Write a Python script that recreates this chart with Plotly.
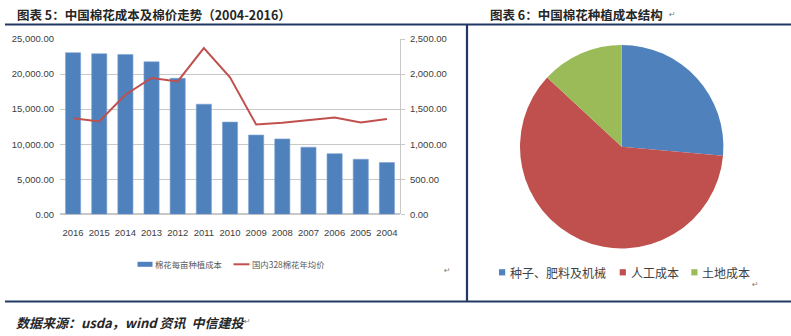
import plotly.graph_objects as go

W, H = 791, 336

years = ["2016", "2015", "2014", "2013", "2012", "2011", "2010", "2009", "2008", "2007", "2006", "2005", "2004"]
cost_per_mu = [23050, 22900, 22800, 21750, 19400, 15700, 13150, 11300, 10750, 9570, 8650, 7850, 7380]
price_328 = [1370, 1325, 1705, 1945, 1895, 2370, 1955, 1280, 1305, 1345, 1380, 1310, 1360]

bar_name = "棉花每亩种植成本"
line_name = "国内328棉花年均价"

pie_labels = ["种子、肥料及机械", "人工成本", "土地成本"]
pie_values = [26.4, 60.5, 13.1]
pie_colors = ["#4f81bd", "#c0504d", "#9bbb59"]

title5 = "图表 5：中国棉花成本及棉价走势（2004-2016）"
title6 = "图表 6：中国棉花种植成本结构"
source = "数据来源：usda，wind 资讯  中信建投"


def px(x):
    return x / W


def py(y):
    return 1 - y / H


NARROW = "Liberation Sans Narrow, Arial Narrow, Liberation Sans, sans-serif"
CJK = "Noto Sans CJK SC, sans-serif"
BLUE, RED = "#4f81bd", "#c0504d"

fig = go.Figure()
fig.add_trace(go.Bar(
    x=years, y=cost_per_mu, name=bar_name,
    marker=dict(color=BLUE, line=dict(color="#7fa3d1", width=0.6)),
    xaxis="x", yaxis="y", showlegend=False,
))
fig.add_trace(go.Scatter(
    x=years, y=price_328, name=line_name, mode="lines",
    line=dict(color=RED, width=2),
    xaxis="x", yaxis="y2", showlegend=False,
))
fig.add_trace(go.Pie(
    labels=pie_labels, values=pie_values, sort=False, direction="clockwise",
    rotation=0, marker=dict(colors=pie_colors, line=dict(color="white", width=0)),
    textinfo="none", hoverinfo="label+percent",
    domain=dict(x=[px(520), px(723.4)], y=[py(248.4), py(45)]),
    showlegend=False,
))

tickfont = dict(family=NARROW, size=9.5, color="#404040")

fig.update_layout(
    width=W, height=H, autosize=False,
    margin=dict(l=0, r=0, t=0, b=0, autoexpand=False),
    paper_bgcolor="white", plot_bgcolor="white",
    bargap=0.42, showlegend=False,
    xaxis=dict(domain=[px(60), px(400)], type="category", tickfont=tickfont,
               showgrid=False, showline=False, ticks="", ticklabelstandoff=11,
               automargin=False),
    yaxis=dict(domain=[py(214.3), py(39)], range=[0, 25000], dtick=5000,
               tickformat=",.2f", tickfont=tickfont, showgrid=True,
               gridcolor="#c8c8c8", gridwidth=1, zeroline=True,
               zerolinecolor="#c8c8c8", showline=False, ticks="",
               ticklabelstandoff=5, automargin=False),
    yaxis2=dict(overlaying="y", side="right", anchor="x", range=[0, 2500],
                dtick=500, tickformat=",.2f", tickfont=tickfont, showgrid=False,
                zeroline=False, showline=True, linecolor="#c8c8c8",
                ticks="outside", ticklen=4, tickcolor="#c8c8c8", tickwidth=1,
                ticklabelstandoff=3, automargin=False),
)

navy = "#1f3864"
shapes = [
    dict(type="line", xref="paper", yref="paper", x0=px(5), x1=1, y0=py(24.5), y1=py(24.5),
         line=dict(color=navy, width=2.2)),
    dict(type="line", xref="paper", yref="paper", x0=px(5), x1=1, y0=py(301.5), y1=py(301.5),
         line=dict(color=navy, width=2.2)),
    dict(type="line", xref="paper", yref="paper", x0=px(467), x1=px(467), y0=py(24.5), y1=py(301.5),
         line=dict(color=navy, width=2.2)),
    # legend swatches (left chart)
    dict(type="rect", xref="paper", yref="paper", x0=px(137.5), x1=px(152.5),
         y0=py(266.8), y1=py(261.8), fillcolor=BLUE, line=dict(width=0)),
    dict(type="line", xref="paper", yref="paper", x0=px(233.5), x1=px(249.5),
         y0=py(264.3), y1=py(264.3), line=dict(color=RED, width=2)),
]
# legend swatches (pie)
for sx, col in zip([499, 619.7, 691.3], pie_colors):
    shapes.append(dict(type="rect", xref="paper", yref="paper", x0=px(sx), x1=px(sx + 6.2),
                       y0=py(275.4), y1=py(269.2), fillcolor=col, line=dict(width=0)))
fig.update_layout(shapes=shapes)

ann = [
    dict(text="<b>" + title5 + "</b>", x=px(15), y=py(15), xref="paper", yref="paper",
         xanchor="left", yanchor="middle", showarrow=False,
         font=dict(family=CJK, size=12.5, color="#262626")),
    dict(text="<b>" + title6 + "</b>", x=px(488), y=py(15), xref="paper", yref="paper",
         xanchor="left", yanchor="middle", showarrow=False,
         font=dict(family=CJK, size=12.5, color="#262626")),
    dict(text="<b><i>" + source + "</i></b>", x=px(14), y=py(322), xref="paper", yref="paper",
         xanchor="left", yanchor="middle", showarrow=False,
         font=dict(family=CJK, size=13, color="#262626")),
]
# legend texts
for tx, ty, t, fs in [(153, 264.3, bar_name, 8.4), (249.5, 264.3, line_name, 8.4),
                      (507.5, 272.3, pie_labels[0], 12), (628.5, 272.3, pie_labels[1], 12),
                      (699.5, 272.3, pie_labels[2], 12)]:
    ann.append(dict(text=t, x=px(tx), y=py(ty), xref="paper", yref="paper",
                    xanchor="left", yanchor="middle", showarrow=False,
                    font=dict(family=CJK, size=fs, color="#595959" if fs < 10 else "#404040")))
for (x, y) in [(447, 270), (755, 284), (672, 15), (247, 321)]:
    ann.append(dict(text="↵", x=px(x), y=py(y), xref="paper", yref="paper",
                    xanchor="center", yanchor="middle", showarrow=False,
                    font=dict(family="DejaVu Sans", size=8, color="#808080")))
fig.update_layout(annotations=ann)

fig.write_html("out.html")
